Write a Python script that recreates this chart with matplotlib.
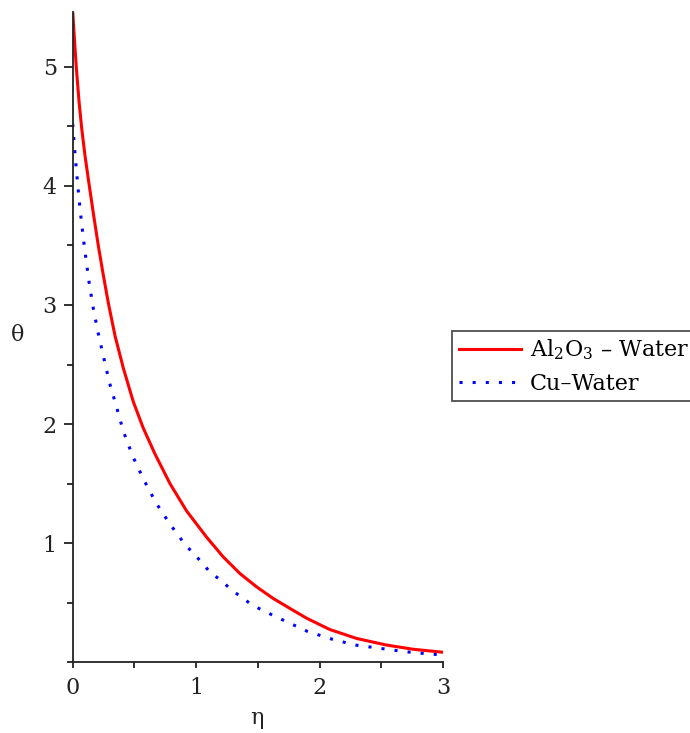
import numpy as np
import matplotlib
matplotlib.use("Agg")
import matplotlib.pyplot as plt
from matplotlib.ticker import MultipleLocator, FixedLocator

# temperature profiles theta(eta) for the two nanofluids
eta_al = [0, 0.012, 0.03, 0.051, 0.073, 0.10, 0.126, 0.167, 0.207, 0.248,
          0.288, 0.343, 0.41, 0.49, 0.57, 0.666, 0.788, 0.923, 1.085, 1.22,
          1.355, 1.49, 1.624, 1.76, 1.895, 2.083, 2.30, 2.54, 2.76, 3.0]
theta_al = [5.46, 5.26, 4.98, 4.71, 4.48, 4.25, 4.06, 3.77, 3.50, 3.25,
            3.02, 2.74, 2.47, 2.19, 1.97, 1.75, 1.50, 1.27, 1.05, 0.884,
            0.745, 0.633, 0.536, 0.452, 0.37, 0.275, 0.20, 0.145, 0.109, 0.084]

eta_cu = [0, 0.01, 0.02, 0.03, 0.045, 0.06, 0.075, 0.092, 0.113, 0.134,
          0.167, 0.207, 0.253, 0.297, 0.356, 0.41, 0.486, 0.577, 0.674, 0.788,
          0.909, 1.05, 1.117, 1.20, 1.28, 1.363, 1.444, 1.53, 1.713, 1.90,
          2.097, 2.286, 2.49, 2.69, 2.893, 3.0]
theta_cu = [4.52, 4.38, 4.25, 4.13, 3.96, 3.80, 3.66, 3.51, 3.34, 3.18,
            2.97, 2.76, 2.55, 2.35, 2.14, 1.94, 1.73, 1.53, 1.34, 1.16,
            0.99, 0.834, 0.75, 0.69, 0.613, 0.55, 0.488, 0.44, 0.35, 0.26,
            0.195, 0.145, 0.117, 0.089, 0.069, 0.062]

labels = ["Al$_2$O$_3$ \u2013 Water", "Cu\u2013Water"]

plt.rcParams["font.family"] = ["DejaVu Serif"]
plt.rcParams["mathtext.fontset"] = "dejavuserif"

fig = plt.figure(figsize=(6.9, 7.33), dpi=100)
ax = fig.add_axes([0.1054, 0.0965, 0.5366, 0.8871])

ax.plot(eta_al, theta_al, color="#ff0000", lw=2.2, label=labels[0])
ax.plot(eta_cu, theta_cu, color="#0000ff", lw=2.2,
        linestyle=(0, (1, 3.3)), label=labels[1])

ax.set_xlim(0, 3)
ax.set_ylim(0, 5.46)

for s in ["top", "right"]:
    ax.spines[s].set_visible(False)
for s in ["left", "bottom"]:
    ax.spines[s].set_linewidth(1.3)
    ax.spines[s].set_color("#222222")

ax.xaxis.set_major_locator(FixedLocator([0, 1, 2, 3]))
ax.xaxis.set_minor_locator(MultipleLocator(0.5))
ax.yaxis.set_major_locator(FixedLocator([1, 2, 3, 4, 5]))
ax.yaxis.set_minor_locator(MultipleLocator(0.5))
ax.tick_params(axis="both", which="both", direction="out", width=1.3,
               color="#222222", labelsize=16, labelcolor="#222222")
ax.tick_params(axis="x", which="both", length=4.5, pad=6)
ax.tick_params(axis="y", which="major", length=6.5, pad=5)
ax.tick_params(axis="y", which="minor", length=4.5)

ax.set_xlabel("\u03b7", fontsize=16, color="#222222")
ax.set_ylabel("\u03b8", fontsize=16, color="#222222", rotation=0)
ax.xaxis.set_label_coords(0.498, -0.0857)
ax.yaxis.set_label_coords(-0.148, 0.503)
ax.xaxis.label.set_va("center")
ax.yaxis.label.set_va("center")

leg = fig.legend(loc="upper left", bbox_to_anchor=(452 / 690, 1 - 330.7 / 733),
                 borderaxespad=0, fancybox=False, frameon=True, fontsize=16,
                 handlelength=2.8, handletextpad=0.4, borderpad=0.3,
                 labelspacing=0.48)
leg.get_frame().set_edgecolor("#222222")
leg.get_frame().set_linewidth(1.3)

fig.savefig("out.png", dpi=100)
